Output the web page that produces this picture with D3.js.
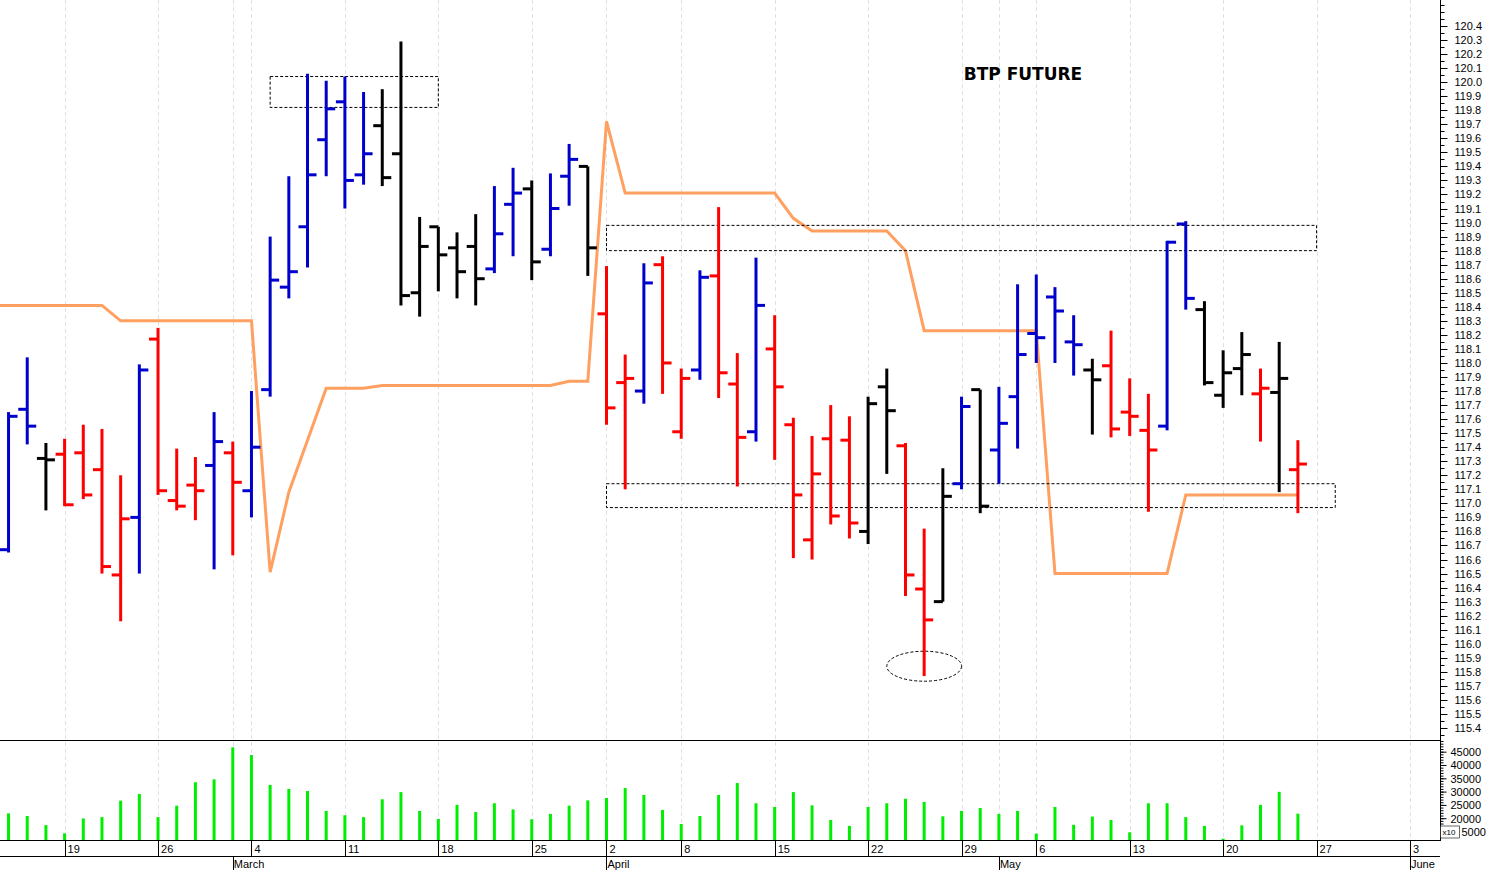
<!DOCTYPE html>
<html><head><meta charset="utf-8">
<script src="https://cdn.jsdelivr.net/npm/d3@7"></script>
<style>body{margin:0;background:#fff}svg{display:block}</style>
</head><body>
<svg id="c" width="1487" height="870"></svg>
<script>
const dates=["2024-02-14","2024-02-15","2024-02-16","2024-02-19","2024-02-20","2024-02-21","2024-02-22","2024-02-23","2024-02-26","2024-02-27","2024-02-28","2024-02-29","2024-03-01","2024-03-04","2024-03-05","2024-03-06","2024-03-07","2024-03-08","2024-03-11","2024-03-12","2024-03-13","2024-03-14","2024-03-15","2024-03-18","2024-03-19","2024-03-20","2024-03-21","2024-03-22","2024-03-25","2024-03-26","2024-03-27","2024-03-28","2024-04-02","2024-04-03","2024-04-04","2024-04-05","2024-04-08","2024-04-09","2024-04-10","2024-04-11","2024-04-12","2024-04-15","2024-04-16","2024-04-17","2024-04-18","2024-04-19","2024-04-22","2024-04-23","2024-04-24","2024-04-25","2024-04-26","2024-04-29","2024-04-30","2024-05-02","2024-05-03","2024-05-06","2024-05-07","2024-05-08","2024-05-09","2024-05-10","2024-05-13","2024-05-14","2024-05-15","2024-05-16","2024-05-17","2024-05-20","2024-05-21","2024-05-22","2024-05-23","2024-05-24"];
const futureDates=["2024-05-27","2024-05-28","2024-05-29","2024-05-30","2024-05-31","2024-06-03"];
const open=[116.67,117.67,117.32,117.35,117.36,117.24,116.49,116.90,118.17,117.02,117.13,117.27,117.36,117.09,117.81,118.54,118.97,119.59,119.86,119.34,119.69,119.49,118.50,118.97,118.82,118.83,118.67,119.13,119.24,118.81,119.33,119.40,118.35,117.86,117.80,118.70,117.51,117.95,118.62,117.85,117.51,118.10,117.56,116.74,117.46,117.45,116.80,117.83,117.41,116.39,116.30,117.14,117.81,117.38,117.76,118.21,118.47,118.15,117.95,117.98,117.65,117.52,117.55,118.99,118.38,117.77,117.96,117.78,117.79,117.24];
const high=[117.65,118.04,117.43,117.46,117.56,117.53,117.20,117.99,118.25,117.39,117.33,117.65,117.44,117.80,118.90,119.33,120.06,120.01,120.04,119.93,119.95,120.29,119.04,118.97,118.93,119.06,119.26,119.39,119.30,119.35,119.56,119.40,118.69,118.06,118.71,118.76,117.96,118.66,119.11,118.07,118.75,118.34,117.61,117.48,117.70,117.62,117.76,117.96,117.43,116.82,117.25,117.76,117.81,117.83,118.56,118.63,118.54,118.34,118.03,118.23,117.89,117.78,118.87,119.01,118.44,118.09,118.22,117.96,118.15,117.45];
const low=[116.65,117.42,116.95,116.98,117.03,116.50,116.16,116.50,117.06,116.95,116.88,116.53,116.63,116.90,117.76,118.46,118.68,119.33,119.10,119.27,119.26,118.41,118.33,118.51,118.46,118.41,118.64,118.76,118.59,118.76,119.12,118.62,117.56,117.10,117.71,117.78,117.46,117.88,117.75,117.12,117.44,117.31,116.61,116.60,116.85,116.75,116.71,117.21,116.34,115.77,116.30,117.10,116.93,117.14,117.39,118.00,118.00,117.91,117.49,117.47,117.48,116.94,117.52,118.38,117.84,117.68,117.77,117.44,117.08,116.93];
const close=[117.62,117.55,117.31,116.99,117.06,116.55,116.89,117.95,117.09,116.98,117.09,117.44,117.15,117.40,118.59,118.65,119.34,119.81,119.30,119.49,119.32,118.48,118.83,118.77,118.65,118.60,118.92,119.21,118.72,119.10,119.45,118.82,117.68,117.89,118.57,118.00,117.89,118.61,117.93,117.47,118.41,117.83,117.06,117.21,116.91,116.86,117.71,117.66,116.49,116.17,117.05,117.69,116.98,117.57,118.06,118.18,118.37,118.13,117.88,117.53,117.62,117.38,118.86,118.46,117.86,117.93,118.06,117.82,117.89,117.28];
const barColor="BBKRRRRBRRRBRBBBBBBBKKKKKKBBKBBKRRBRRBRRBRRRRRKKRRKBKBBBBBKRRRBBKKKRKR".split("");
const volume=[22000,21000,17600,14500,20100,20600,26800,29300,20600,24900,33700,34800,46800,43900,32700,31200,30400,22900,21300,20600,27300,30000,22900,19900,25200,22500,25800,23500,19800,21800,24900,26900,27800,31500,28900,23300,18000,21000,28900,33400,25800,24400,30000,25000,19500,17300,24400,25800,27500,26300,20900,22900,24000,21800,22900,14400,24400,17700,20800,19500,14900,25800,25800,20600,17300,12500,17500,25200,30100,21900];
const stopLead=118.41;
const stopLine=[118.41,118.41,118.41,118.41,118.41,118.41,118.30,118.30,118.30,118.30,118.30,118.30,118.30,118.30,116.51,117.08,117.45,117.82,117.82,117.82,117.84,117.84,117.84,117.84,117.84,117.84,117.84,117.84,117.84,117.84,117.87,117.87,119.72,119.21,119.21,119.21,119.21,119.21,119.21,119.21,119.21,119.21,119.03,118.94,118.94,118.94,118.94,118.94,118.80,118.23,118.23,118.23,118.23,118.23,118.23,118.23,116.50,116.50,116.50,116.50,116.50,116.50,116.50,117.06,117.06,117.06,117.06,117.06,117.06,117.06];
const dayTicks=["2024-02-19","2024-02-26","2024-03-04","2024-03-11","2024-03-18","2024-03-25","2024-04-02","2024-04-08","2024-04-15","2024-04-22","2024-04-29","2024-05-06","2024-05-13","2024-05-20","2024-05-27","2024-06-03"];
const dayLabels=["19","26","4","11","18","25","2","8","15","22","29","6","13","20","27","3"];
const monthTicks=["2024-03-01","2024-04-02","2024-05-02","2024-06-03"];
const monthLabels=["March","April","May","June"];
const volTicks=[15000,20000,25000,30000,35000,40000,45000];
const zones=[{from:"2024-03-05",to:"2024-03-18",top:120.04,bottom:119.82},{from:"2024-04-02",to:"2024-05-27",top:118.98,bottom:118.80},{from:"2024-04-02",to:"2024-05-28",top:117.14,bottom:116.97}];
const lowMark={date:"2024-04-25",price:115.84};
const title="BTP FUTURE";

const allDates=dates.concat(futureDates);
const idx=d=>allDates.indexOf(d);
const svg=d3.select("#c");
const R=1440;
const x=d3.scaleLinear().domain([3,75]).range([64.6,1410]);
const y=d3.scaleLinear().domain([115.4,120.4]).range([728,26]);
const yv=d3.scaleLinear().domain([12000,49200]).range([840,741]);
const colors={B:"#0000cc",R:"#ff0000",K:"#000000"};

svg.append("clipPath").attr("id","pc").append("rect").attr("x",0).attr("y",0).attr("width",R).attr("height",740);
const gridDates=Array.from(new Set(dayTicks.concat(monthTicks)));
svg.append("g").selectAll("line").data(gridDates).join("line")
 .attr("x1",d=>Math.round(x(idx(d)))+0.5).attr("x2",d=>Math.round(x(idx(d)))+0.5).attr("y1",0).attr("y2",840)
 .attr("stroke","#e0e0e0").attr("stroke-dasharray","4,3").attr("stroke-width",1);

const g=svg.append("g").attr("clip-path","url(#pc)");
const lineData=[{i:-1,v:stopLead}].concat(stopLine.map((v,i)=>({i,v})));
g.append("path").datum(lineData).attr("fill","none").attr("stroke","#ffa060").attr("stroke-width",3)
 .attr("d",d3.line().x(d=>x(d.i)).y(d=>y(d.v)));
g.selectAll("rect.z").data(zones).join("rect").attr("class","z")
 .attr("x",d=>x(idx(d.from))).attr("y",d=>y(d.top))
 .attr("width",d=>x(idx(d.to))-x(idx(d.from))).attr("height",d=>y(d.bottom)-y(d.top))
 .attr("fill","none").attr("stroke","#000").attr("stroke-dasharray","3,2").attr("stroke-width",1);
g.append("ellipse").attr("cx",x(idx(lowMark.date))).attr("cy",y(lowMark.price)).attr("rx",x(2)-x(0)).attr("ry",15)
 .attr("fill","none").attr("stroke","#000").attr("stroke-dasharray","3,2");
const bars=g.append("g").selectAll("g").data(dates.map((d,i)=>({i,o:open[i],h:high[i],l:low[i],c:close[i],col:colors[barColor[i]]}))).join("g");
bars.append("line").attr("x1",d=>x(d.i)).attr("x2",d=>x(d.i)).attr("y1",d=>y(d.h)).attr("y2",d=>y(d.l)).attr("stroke",d=>d.col).attr("stroke-width",3);
bars.append("line").attr("x1",d=>x(d.i)-9).attr("x2",d=>x(d.i)).attr("y1",d=>y(d.o)).attr("y2",d=>y(d.o)).attr("stroke",d=>d.col).attr("stroke-width",3);
bars.append("line").attr("x1",d=>x(d.i)).attr("x2",d=>x(d.i)+9).attr("y1",d=>y(d.c)).attr("y2",d=>y(d.c)).attr("stroke",d=>d.col).attr("stroke-width",3);
svg.append("text").attr("x",1023).attr("y",80).attr("text-anchor","middle").attr("font-family","DejaVu Sans").attr("font-weight","bold").attr("font-size",17).text(title);
svg.append("g").selectAll("line").data(volume).join("line")
 .attr("x1",(d,i)=>x(i)).attr("x2",(d,i)=>x(i)).attr("y1",840).attr("y2",d=>yv(d)).attr("stroke","#00ee00").attr("stroke-width",3);
svg.append("line").attr("x1",0).attr("x2",R).attr("y1",740.5).attr("y2",740.5).attr("stroke","#000");
svg.append("line").attr("x1",0).attr("x2",R).attr("y1",840.5).attr("y2",840.5).attr("stroke","#000");
svg.append("line").attr("x1",0).attr("x2",R).attr("y1",856.5).attr("y2",856.5).attr("stroke","#000");
svg.append("line").attr("x1",R+0.5).attr("x2",R+0.5).attr("y1",0).attr("y2",841).attr("stroke","#000");
const pa=svg.append("g").attr("transform",`translate(${R+0.5},0)`);
const minor=d3.range(115.35,120.56,0.05);
pa.selectAll("line.mn").data(minor).join("line").attr("x1",0).attr("x2",4).attr("y1",d=>Math.round(y(d))+0.5).attr("y2",d=>Math.round(y(d))+0.5).attr("stroke","#000");
const major=d3.range(0,51).map(k=>115.4+k*0.1);
pa.selectAll("line.mj").data(major).join("line").attr("x1",0).attr("x2",7).attr("y1",d=>Math.round(y(d))+0.5).attr("y2",d=>Math.round(y(d))+0.5).attr("stroke","#000");
pa.selectAll("text").data(major).join("text").attr("x",14).attr("y",d=>y(d)+4).attr("font-family","Liberation Sans").attr("font-size",11).text(d=>d.toFixed(1));
const va=svg.append("g").attr("transform",`translate(${R+0.5},0)`);
va.selectAll("line.m").data(d3.range(13000,49001,1000)).join("line").attr("x1",0).attr("x2",3).attr("y1",d=>yv(d)).attr("y2",d=>yv(d)).attr("stroke","#000");
va.selectAll("line.M").data(volTicks).join("line").attr("x1",0).attr("x2",6).attr("y1",d=>yv(d)).attr("y2",d=>yv(d)).attr("stroke","#000");
va.selectAll("text").data(volTicks).join("text").attr("x",d=>d===15000?21:10).attr("y",d=>yv(d)+4).attr("font-family","Liberation Sans").attr("font-size",11).text(d=>d===15000?"5000":d);
va.append("rect").attr("x",0).attr("y",826).attr("width",19).attr("height",12).attr("fill","#fff").attr("stroke","#000").attr("stroke-width",0.6);
va.append("text").attr("x",2).attr("y",835).attr("font-family","Liberation Sans").attr("font-size",8).text("x10");
const da=svg.append("g");
da.selectAll("line").data(dayTicks).join("line").attr("x1",d=>Math.round(x(idx(d)))+0.5).attr("x2",d=>Math.round(x(idx(d)))+0.5).attr("y1",841).attr("y2",856).attr("stroke","#000");
da.selectAll("text").data(dayTicks).join("text").attr("x",d=>x(idx(d))+3).attr("y",853).attr("font-family","Liberation Sans").attr("font-size",11).text((d,i)=>dayLabels[i]);
const ma=svg.append("g");
ma.selectAll("line").data(monthTicks).join("line").attr("x1",d=>Math.round(x(idx(d)))+0.5).attr("x2",d=>Math.round(x(idx(d)))+0.5).attr("y1",857).attr("y2",870).attr("stroke","#000");
ma.selectAll("text").data(monthTicks).join("text").attr("x",d=>x(idx(d))+1).attr("y",868).attr("font-family","Liberation Sans").attr("font-size",11).text((d,i)=>monthLabels[i]);
</script>
</body></html>
